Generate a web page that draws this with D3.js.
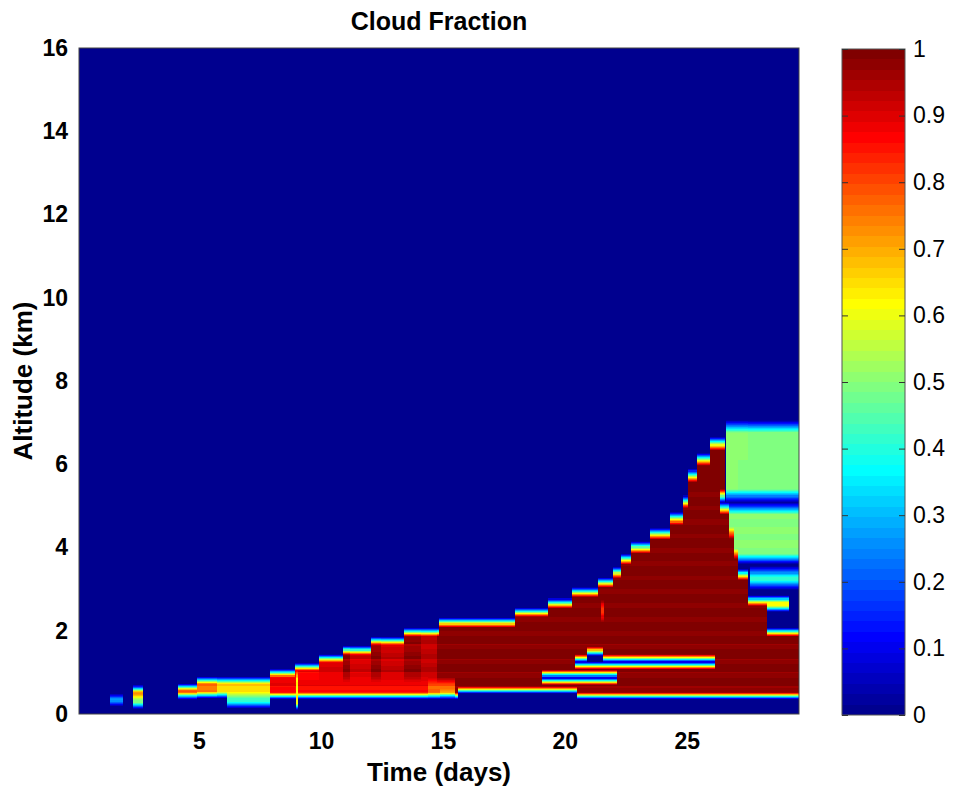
<!DOCTYPE html>
<html>
  <head>
    <meta charset="UTF-8">
    <title>Cloud Fraction</title>
    <script src="https://d3js.org/d3.v7.min.js"></script>
    <style>
      body { margin: 0; background: #fff; }
      text { font-family: "Liberation Sans", Arial, sans-serif; fill: #000; }
      .axis text { font-weight: bold; font-size: 23px; }
      .axis path, .axis line { stroke: none; }
      .cbar text { font-size: 23px; }
      .cbar line { stroke: #333; }
      .cbar path { stroke: none; }
      .label { font-weight: bold; font-size: 26px; }
      .title { font-weight: bold; font-size: 25px; }
    </style>
  </head>
  <body>
    <div id="chart"></div>
    <script>
      // shallow cloud of the first days: [start day, end day, base km, top km, fraction]
      const earlyCloud = [
        [1.35, 1.9, 0.27, 0.4, 0.35],
        [2.3, 2.7, 0.2, 0.62, 0.5],
        [2.3, 2.7, 0.42, 0.56, 0.78],
        [4.15, 4.9, 0.42, 0.64, 0.65],
        [4.15, 4.9, 0.53, 0.64, 0.92],
        [4.9, 5.75, 0.45, 0.82, 0.76],
        [5.75, 7.9, 0.45, 0.82, 0.66],
        [6.15, 7.9, 0.22, 0.45, 0.42]
      ];

      // top of the main deck: [start day, end day, top km]
      const deckTop = [
        [7.9, 8.95, 0.98], [8.95, 9.9, 1.13], [9.9, 10.9, 1.34], [10.9, 12.05, 1.53],
        [12.05, 13.4, 1.75], [13.4, 14.85, 1.97], [14.85, 17.95, 2.2], [17.95, 19.3, 2.44],
        [19.3, 20.3, 2.66], [20.3, 21.35, 2.92], [21.35, 21.97, 3.16], [21.97, 22.3, 3.4],
        [22.3, 22.7, 3.72], [22.7, 23.5, 4.0], [23.5, 24.3, 4.33], [24.3, 24.85, 4.7],
        [24.85, 25.05, 5.1], [25.05, 25.4, 5.73], [25.4, 25.95, 6.12], [25.95, 26.55, 6.5],
        [26.55, 26.75, 5.0], [26.75, 26.95, 4.35], [26.95, 27.1, 3.85], [27.1, 27.5, 3.35],
        [27.5, 29.2, 2.72], [29.2, 29.6, 2.55]
      ];
      // base of the main deck: [start day, end day, base km]
      const deckBase = [[7.9, 15.6, 0.43], [15.6, 20.5, 0.57], [20.5, 29.6, 0.43]];
      const deckFraction = 0.99;

      // lighter parts inside the deck: [start day, end day, z0, z1, fraction]
      const deckShade = [
        [7.9, 9.9, 0, 9, 0.88],
        [9.9, 10.9, 0, 9, 0.9],
        [10.9, 11.2, 0, 9, 0.97],
        [11.2, 12.05, 0, 9, 0.91],
        [12.05, 12.45, 0, 9, 0.97],
        [12.45, 13.4, 0, 9, 0.92],
        [13.4, 14.1, 0, 9, 0.97],
        [14.1, 14.75, 0, 9, 0.93],
        [8.95, 14.4, 0, 0.85, 0.87],
        [14.4, 15.5, 0, 0.8, 0.78],
        [14.9, 15.5, 0, 0.55, 0.68]
      ];
      const streaks = [
        [8.97, 9.07, 0.18, 0.95, 0.62],
        [21.5, 21.6, 2.3, 2.65, 0.82]
      ];

      // upper layer of the last days
      const anvil = [
        [26.6, 29.6, 3.72, 6.92, 0.5],
        [27.6, 29.6, 3.1, 3.42, 0.42]
      ];

      // clear gaps inside the cloud: [start day, end day, z0, z1]
      const gaps = [
        [19.05, 22.15, 0.79, 0.96],
        [20.4, 26.15, 1.16, 1.34],
        [20.9, 21.55, 1.16, 1.5],
        [28.3, 29.6, 1.97, 2.57],
        [26.35, 29.6, 4.94, 5.24]
      ];

      const xTicks = [5, 10, 15, 20, 25];
      const yTicks = [0, 2, 4, 6, 8, 10, 12, 14, 16];
      const cbTicks = [0, 0.1, 0.2, 0.3, 0.4, 0.5, 0.6, 0.7, 0.8, 0.9, 1];

      const width = 954, height = 789;

      const svg = d3.select("#chart")
        .append("svg")
        .attr("width", width)
        .attr("height", height);

      const x = d3.scaleLinear().domain([0.08, 29.6]).range([79, 799]);
      const y = d3.scaleLinear().domain([0, 16]).range([714, 48]);
      const cb = d3.scaleLinear().domain([0, 1]).range([715, 49]);

      // MATLAB jet, 64 colours
      function jet(i) {
        const v = (i + 1) / 64;
        const c = a => Math.max(0, Math.min(1, a));
        const r = c(Math.min(4 * v - 1.5, -4 * v + 4.5));
        const g = c(Math.min(4 * v - 0.5, -4 * v + 3.5));
        const b = c(Math.min(4 * v + 0.5, -4 * v + 2.5));
        return d3.rgb(r * 255, g * 255, b * 255).formatHex();
      }
      const colIndex = v => Math.max(0, Math.min(63, Math.floor(v * 64)));

      // vertical profile at time t, smoothed like interpolated shading
      const dzf = 0.005, zMax = 8.5, nF = Math.round(zMax / dzf);
      function profileAt(t) {
        const p = new Float64Array(nF);
        const inside = (a, b) => t > a && t < b;
        const paint = (z0, z1, v, shade) => {
          const i0 = Math.max(0, Math.round(z0 / dzf));
          const i1 = Math.min(nF, Math.round(z1 / dzf));
          for (let i = i0; i < i1; i++) if (!shade || p[i] > 0) p[i] = v;
        };
        earlyCloud.forEach(([a, b, z0, z1, v]) => { if (inside(a, b)) paint(z0, z1, v); });
        anvil.forEach(([a, b, z0, z1, v]) => { if (inside(a, b)) paint(z0, z1, v); });
        deckTop.forEach(([a, b, top]) => {
          if (!inside(a, b)) return;
          const base = deckBase.find(d => t > d[0] && t <= d[1])[2];
          paint(base, top, deckFraction);
        });
        deckShade.forEach(([a, b, z0, z1, v]) => { if (inside(a, b)) paint(z0, z1, v, true); });
        streaks.forEach(([a, b, z0, z1, v]) => { if (inside(a, b)) paint(z0, z1, v); });
        gaps.forEach(([a, b, z0, z1]) => { if (inside(a, b)) paint(z0, z1, 0); });

        const C = new Float64Array(nF + 1);
        for (let i = 0; i < nF; i++) C[i + 1] = C[i] + p[i] * dzf;
        const cum = z => C[Math.max(0, Math.min(nF, Math.round(z / dzf)))];
        return z => {
          const w = Math.min(0.32, 0.16 + 0.03 * z);
          return (cum(z + w / 2) - cum(z - w / 2)) / w;
        };
      }

      // time segments
      const breaks = Array.from(new Set([
        ...earlyCloud.flatMap(d => [d[0], d[1]]),
        ...deckTop.flatMap(d => [d[0], d[1]]),
        ...deckBase.flatMap(d => [d[0], d[1]]),
        ...deckShade.flatMap(d => [d[0], d[1]]),
        ...streaks.flatMap(d => [d[0], d[1]]),
        ...anvil.flatMap(d => [d[0], d[1]]),
        ...gaps.flatMap(d => [d[0], d[1]])
      ])).sort((a, b) => a - b);

      const dzs = 0.025, nS = Math.round(zMax / dzs);
      const cells = [];
      for (let k = 0; k < breaks.length - 1; k++) {
        const t0 = breaks[k], t1 = breaks[k + 1];
        const f = profileAt((t0 + t1) / 2);
        let start = 0, cur = colIndex(f(dzs / 2));
        for (let j = 1; j <= nS; j++) {
          const idx = j < nS ? colIndex(f((j + 0.5) * dzs)) : -1;
          if (idx !== cur) {
            if (cur > 0) cells.push({ t0, t1, z0: start * dzs, z1: j * dzs, c: cur });
            start = j;
            cur = idx;
          }
        }
      }

      const plot = svg.append("g");
      plot.append("rect")
        .attr("x", x(0.08)).attr("y", y(16))
        .attr("width", x(29.6) - x(0.08)).attr("height", y(0) - y(16))
        .attr("fill", jet(0));

      plot.selectAll(".cell")
        .data(cells)
        .enter()
        .append("rect")
        .attr("class", "cell")
        .attr("x", d => x(d.t0))
        .attr("width", d => x(d.t1) - x(d.t0))
        .attr("y", d => y(d.z1))
        .attr("height", d => y(d.z0) - y(d.z1))
        .attr("fill", d => jet(d.c))
        .attr("shape-rendering", "crispEdges");

      plot.append("rect")
        .attr("x", x(0.08)).attr("y", y(16))
        .attr("width", x(29.6) - x(0.08)).attr("height", y(0) - y(16))
        .attr("fill", "none")
        .attr("stroke", "#444")
        .attr("stroke-width", 1);

      svg.append("g")
        .attr("class", "axis")
        .attr("transform", `translate(${x(0.08)},0)`)
        .call(d3.axisLeft(y).tickValues(yTicks).tickSize(0).tickPadding(11));

      svg.append("g")
        .attr("class", "axis")
        .attr("transform", `translate(0,${y(0)})`)
        .call(d3.axisBottom(x).tickValues(xTicks).tickSize(0).tickPadding(19));

      // colour bar
      const cbX0 = 842, cbX1 = 905;
      const cbar = svg.append("g").attr("class", "cbar");
      cbar.selectAll(".swatch")
        .data(d3.range(64))
        .enter()
        .append("rect")
        .attr("x", cbX0)
        .attr("width", cbX1 - cbX0)
        .attr("y", i => cb((i + 1) / 64))
        .attr("height", i => cb(i / 64) - cb((i + 1) / 64))
        .attr("fill", i => jet(i))
        .attr("shape-rendering", "crispEdges");
      cbar.append("rect")
        .attr("x", cbX0).attr("y", cb(1))
        .attr("width", cbX1 - cbX0).attr("height", cb(0) - cb(1))
        .attr("fill", "none").attr("stroke", "#555");
      cbar.append("g")
        .attr("transform", `translate(${cbX1},0)`)
        .call(d3.axisRight(cb).tickValues(cbTicks).tickSize(-6).tickPadding(8)
          .tickFormat(d3.format("~g")));
      cbar.append("g")
        .attr("transform", `translate(${cbX0},0)`)
        .call(d3.axisLeft(cb).tickValues(cbTicks).tickSize(-6).tickFormat(""));

      svg.append("text")
        .attr("class", "title")
        .attr("x", x(14.84))
        .attr("y", 30)
        .attr("text-anchor", "middle")
        .text("Cloud Fraction");

      svg.append("text")
        .attr("class", "label")
        .attr("x", x(14.84))
        .attr("y", 772)
        .attr("text-anchor", "middle")
        .attr("dominant-baseline", "central")
        .text("Time (days)");

      svg.append("text")
        .attr("class", "label")
        .attr("transform", `translate(23,${y(8)}) rotate(-90)`)
        .attr("text-anchor", "middle")
        .attr("dominant-baseline", "central")
        .text("Altitude (km)");
    </script>
  </body>
</html>
